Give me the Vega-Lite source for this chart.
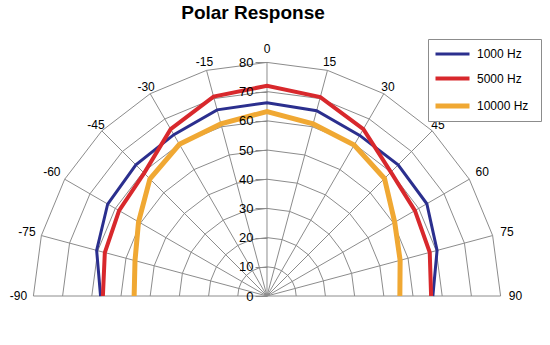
{
  "$schema": "https://vega.github.io/schema/vega-lite/v6.json",
  "width": 550,
  "height": 315,
  "autosize": {"type": "none"},
  "padding": {"left": 0, "top": 30, "right": 0, "bottom": 0},
  "background": "white",
  "title": {"text": "Polar Response", "fontSize": 19, "fontWeight": "bold", "font": "Liberation Sans", "color": "black", "anchor": "middle", "frame": "group", "dx": -22, "offset": -8, "baseline": "alphabetic"},
  "config": {"view": {"stroke": null}},
  "datasets": {
    "rings": [
      {"ring": 10, "angles": [-90, -75, -60, -45, -30, -15, 0, 15, 30, 45, 60, 75, 90]},
      {"ring": 20, "angles": [-90, -75, -60, -45, -30, -15, 0, 15, 30, 45, 60, 75, 90]},
      {"ring": 30, "angles": [-90, -75, -60, -45, -30, -15, 0, 15, 30, 45, 60, 75, 90]},
      {"ring": 40, "angles": [-90, -75, -60, -45, -30, -15, 0, 15, 30, 45, 60, 75, 90]},
      {"ring": 50, "angles": [-90, -75, -60, -45, -30, -15, 0, 15, 30, 45, 60, 75, 90]},
      {"ring": 60, "angles": [-90, -75, -60, -45, -30, -15, 0, 15, 30, 45, 60, 75, 90]},
      {"ring": 70, "angles": [-90, -75, -60, -45, -30, -15, 0, 15, 30, 45, 60, 75, 90]},
      {"ring": 80, "angles": [-90, -75, -60, -45, -30, -15, 0, 15, 30, 45, 60, 75, 90]}
    ],
    "spokes": [
      {"angle": -90, "label": "-90"}, {"angle": -75, "label": "-75"}, {"angle": -60, "label": "-60"},
      {"angle": -45, "label": "-45"}, {"angle": -30, "label": "-30"}, {"angle": -15, "label": "-15"},
      {"angle": 0, "label": "0"}, {"angle": 15, "label": "15"}, {"angle": 30, "label": "30"},
      {"angle": 45, "label": "45"}, {"angle": 60, "label": "60"}, {"angle": 75, "label": "75"},
      {"angle": 90, "label": "90"}
    ],
    "resp": [
      {"series": "1000 Hz", "angle": -90, "level": 57},
      {"series": "1000 Hz", "angle": -75, "level": 60.4},
      {"series": "1000 Hz", "angle": -60, "level": 63},
      {"series": "1000 Hz", "angle": -45, "level": 63.5},
      {"series": "1000 Hz", "angle": -30, "level": 63.8},
      {"series": "1000 Hz", "angle": -15, "level": 66},
      {"series": "1000 Hz", "angle": 0, "level": 66.2},
      {"series": "1000 Hz", "angle": 15, "level": 65.7},
      {"series": "1000 Hz", "angle": 30, "level": 63.5},
      {"series": "1000 Hz", "angle": 45, "level": 63.5},
      {"series": "1000 Hz", "angle": 60, "level": 63.2},
      {"series": "1000 Hz", "angle": 75, "level": 60.3},
      {"series": "1000 Hz", "angle": 90, "level": 56.8},
      {"series": "5000 Hz", "angle": -90, "level": 56.2},
      {"series": "5000 Hz", "angle": -75, "level": 57.5},
      {"series": "5000 Hz", "angle": -60, "level": 58.5},
      {"series": "5000 Hz", "angle": -45, "level": 59.5},
      {"series": "5000 Hz", "angle": -30, "level": 66},
      {"series": "5000 Hz", "angle": -15, "level": 70.7},
      {"series": "5000 Hz", "angle": 0, "level": 72},
      {"series": "5000 Hz", "angle": 15, "level": 70.5},
      {"series": "5000 Hz", "angle": 30, "level": 66},
      {"series": "5000 Hz", "angle": 45, "level": 60},
      {"series": "5000 Hz", "angle": 60, "level": 58.5},
      {"series": "5000 Hz", "angle": 75, "level": 57.7},
      {"series": "5000 Hz", "angle": 90, "level": 56.2},
      {"series": "10000 Hz", "angle": -90, "level": 45.5},
      {"series": "10000 Hz", "angle": -75, "level": 46.8},
      {"series": "10000 Hz", "angle": -60, "level": 50.8},
      {"series": "10000 Hz", "angle": -45, "level": 56.7},
      {"series": "10000 Hz", "angle": -30, "level": 60},
      {"series": "10000 Hz", "angle": -15, "level": 61},
      {"series": "10000 Hz", "angle": 0, "level": 63.2},
      {"series": "10000 Hz", "angle": 15, "level": 61},
      {"series": "10000 Hz", "angle": 30, "level": 59.7},
      {"series": "10000 Hz", "angle": 45, "level": 56.9},
      {"series": "10000 Hz", "angle": 60, "level": 50.5},
      {"series": "10000 Hz", "angle": 75, "level": 47.2},
      {"series": "10000 Hz", "angle": 90, "level": 45.5}
    ]
  },
  "encoding": {
    "x": {"field": "x", "type": "quantitative", "scale": {"domain": [-91.44, 96.92], "nice": false, "zero": false}, "axis": null},
    "y": {"field": "y", "type": "quantitative", "scale": {"domain": [-16.78, 91.1], "nice": false, "zero": false},
      "axis": {"orient": "left", "offset": -267, "domain": false, "grid": false, "ticks": true, "tickSize": 12, "tickColor": "#8a8a8a", "tickWidth": 1,
        "labelPadding": 2, "labelFontSize": 13, "labelFont": "Liberation Sans", "labelColor": "black", "title": null,
        "values": [0, 10, 20, 30, 40, 50, 60, 70, 80], "zindex": 1}}
  },
  "layer": [
    {
      "data": {"name": "rings"},
      "transform": [
        {"flatten": ["angles"], "as": ["angle"]},
        {"calculate": "datum.ring * sin(datum.angle * PI / 180)", "as": "x"},
        {"calculate": "datum.ring * cos(datum.angle * PI / 180)", "as": "y"}
      ],
      "mark": {"type": "line", "color": "#8c8c8c", "strokeWidth": 1},
      "encoding": {"detail": {"field": "ring", "type": "nominal"}, "order": {"field": "angle", "type": "quantitative"}}
    },
    {
      "data": {"name": "spokes"},
      "transform": [
        {"calculate": "80 * sin(datum.angle * PI / 180)", "as": "x"},
        {"calculate": "80 * cos(datum.angle * PI / 180)", "as": "y"}
      ],
      "mark": {"type": "rule", "color": "#8c8c8c", "strokeWidth": 1},
      "encoding": {"x2": {"datum": 0}, "y2": {"datum": 0}}
    },
    {
      "data": {"name": "spokes"},
      "transform": [
        {"calculate": "abs(datum.angle) == 0 ? 84.6 : (abs(datum.angle) <= 45 ? 82.8 : 85.1)", "as": "lr"},
        {"calculate": "datum.lr * sin(datum.angle * PI / 180)", "as": "x"},
        {"calculate": "datum.lr * cos(datum.angle * PI / 180)", "as": "y"}
      ],
      "mark": {"type": "text", "font": "Liberation Sans", "fontSize": 12, "color": "black", "align": "center", "baseline": "middle"},
      "encoding": {"text": {"field": "label"}}
    },
    {
      "data": {"name": "resp"},
      "transform": [
        {"calculate": "datum.level * sin(datum.angle * PI / 180)", "as": "x"},
        {"calculate": "datum.level * cos(datum.angle * PI / 180)", "as": "y"}
      ],
      "mark": {"type": "line", "strokeJoin": "miter"},
      "encoding": {
        "order": {"field": "angle", "type": "quantitative"},
        "color": {"field": "series", "type": "nominal",
          "scale": {"domain": ["1000 Hz", "5000 Hz", "10000 Hz"], "range": ["#2B2F8E", "#D8282C", "#F0A833"]},
          "legend": {"title": null, "orient": "top-right", "offset": 9, "padding": 5, "strokeColor": "#8c8c8c", "fillColor": "white",
            "symbolType": "M-2,0H2", "symbolSize": 289, "symbolOffset": 8.5, "labelOffset": 13.5, "rowPadding": 8,
            "labelFont": "Liberation Sans", "labelFontSize": 12, "labelColor": "black",
            "labelExpr": "datum.label + '  \u200b'"}},
        "strokeWidth": {"field": "series", "type": "nominal",
          "scale": {"domain": ["1000 Hz", "5000 Hz", "10000 Hz"], "range": [3, 5, 5]},
          "legend": {"title": null, "orient": "top-right", "offset": 9, "padding": 5, "strokeColor": "#8c8c8c", "fillColor": "white",
            "symbolType": "M-2,0H2", "symbolSize": 289, "symbolOffset": 8.5, "labelOffset": 13.5, "rowPadding": 8,
            "labelFont": "Liberation Sans", "labelFontSize": 12, "labelColor": "black",
            "labelExpr": "datum.label + '  \u200b'"}}
      }
    }
  ]
}
